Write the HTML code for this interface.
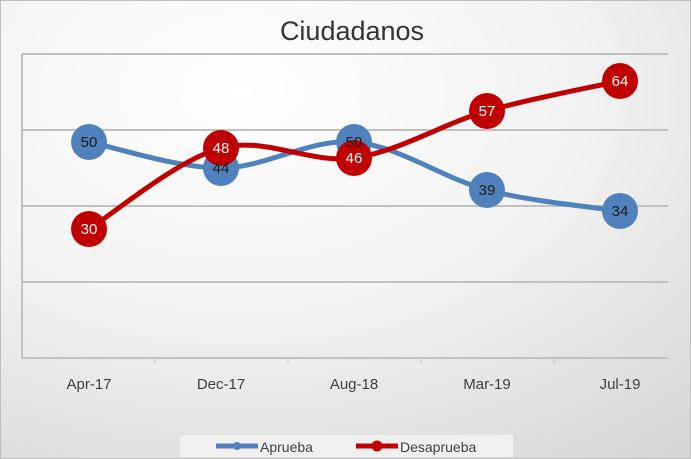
<!DOCTYPE html>
<html><head><meta charset="utf-8"><style>
html,body{margin:0;padding:0;width:691px;height:459px;overflow:hidden}
svg text{font-family:"Liberation Sans",sans-serif}
</style></head><body>
<svg width="691" height="459" viewBox="0 0 691 459" xmlns="http://www.w3.org/2000/svg">
<defs>
<radialGradient id="bg" cx="0.35" cy="0.2" r="1.0">
<stop offset="0" stop-color="#ffffff"/>
<stop offset="0.5" stop-color="#f2f2f2"/>
<stop offset="1" stop-color="#d6d6d6"/>
</radialGradient>
</defs>
<rect x="0.5" y="0.5" width="690" height="458" fill="url(#bg)" stroke="#bfbfbf"/>
<text x="352" y="40" font-size="27" text-anchor="middle" fill="#333">Ciudadanos</text>
<g stroke="#c0c0c0" stroke-width="2">
<line x1="22" y1="54" x2="668" y2="54"/>
<line x1="22" y1="130" x2="668" y2="130"/>
<line x1="22" y1="206" x2="668" y2="206"/>
<line x1="22" y1="282" x2="668" y2="282"/>
<line x1="22" y1="358" x2="668" y2="358"/>
<line x1="22" y1="54" x2="22" y2="358"/>
</g>
<g stroke="#c0c0c0" stroke-width="1">
<line x1="155" y1="358" x2="155" y2="363"/><line x1="288" y1="358" x2="288" y2="363"/>
<line x1="421" y1="358" x2="421" y2="363"/><line x1="554" y1="358" x2="554" y2="363"/>
</g>
<g font-size="15" fill="#404040" text-anchor="middle">
<text x="89" y="389">Apr-17</text><text x="221" y="389">Dec-17</text><text x="354" y="389">Aug-18</text><text x="487" y="389">Mar-19</text><text x="620" y="389">Jul-19</text>
</g>
<path d="M89,142 C111,146.3 176.8,168 221,168 C265.2,168 309.7,138.3 354,142 C398.3,145.7 442.7,178.2 487,190 C531.3,201.8 597.8,207.5 620,211" fill="none" stroke="#4f81bd" stroke-width="5"/>
<path d="M89,229 C111,215.5 176.8,159.8 221,148 C265.2,136.2 309.7,164.2 354,158 C398.3,151.8 442.7,123.8 487,111 C531.3,98.2 597.8,86 620,81" fill="none" stroke="#c00000" stroke-width="5"/>
<g fill="#4f81bd">
<circle cx="89" cy="142" r="18"/><circle cx="221" cy="168" r="18"/><circle cx="354" cy="142" r="18"/><circle cx="487" cy="190" r="18"/><circle cx="620" cy="211" r="18"/>
</g>
<g fill="#c00000">
<circle cx="89" cy="229" r="18"/><circle cx="221" cy="148" r="18"/><circle cx="354" cy="158" r="18"/><circle cx="487" cy="111" r="18"/><circle cx="620" cy="81" r="18"/>
</g>
<g font-size="15" text-anchor="middle" fill="#1a1a1a">
<text x="89" y="147">50</text><text x="221" y="173">44</text><text x="354" y="147">50</text><text x="487" y="195">39</text><text x="620" y="216">34</text>
</g>
<g font-size="15" text-anchor="middle" fill="#ffffff">
<text x="89" y="234">30</text><text x="221" y="153">48</text><text x="354" y="163">46</text><text x="487" y="116">57</text><text x="620" y="86">64</text>
</g>
<rect x="180" y="435" width="333" height="22" fill="#f0f0f0"/>
<line x1="216" y1="446" x2="258" y2="446" stroke="#4f81bd" stroke-width="5"/>
<circle cx="237" cy="446" r="4" fill="#4f81bd"/>
<text x="260" y="452" font-size="14" fill="#404040">Aprueba</text>
<line x1="356" y1="446" x2="398" y2="446" stroke="#c00000" stroke-width="5"/>
<circle cx="377" cy="446" r="5.5" fill="#c00000"/>
<text x="400" y="452" font-size="14" fill="#404040">Desaprueba</text>
</svg>
</body></html>
